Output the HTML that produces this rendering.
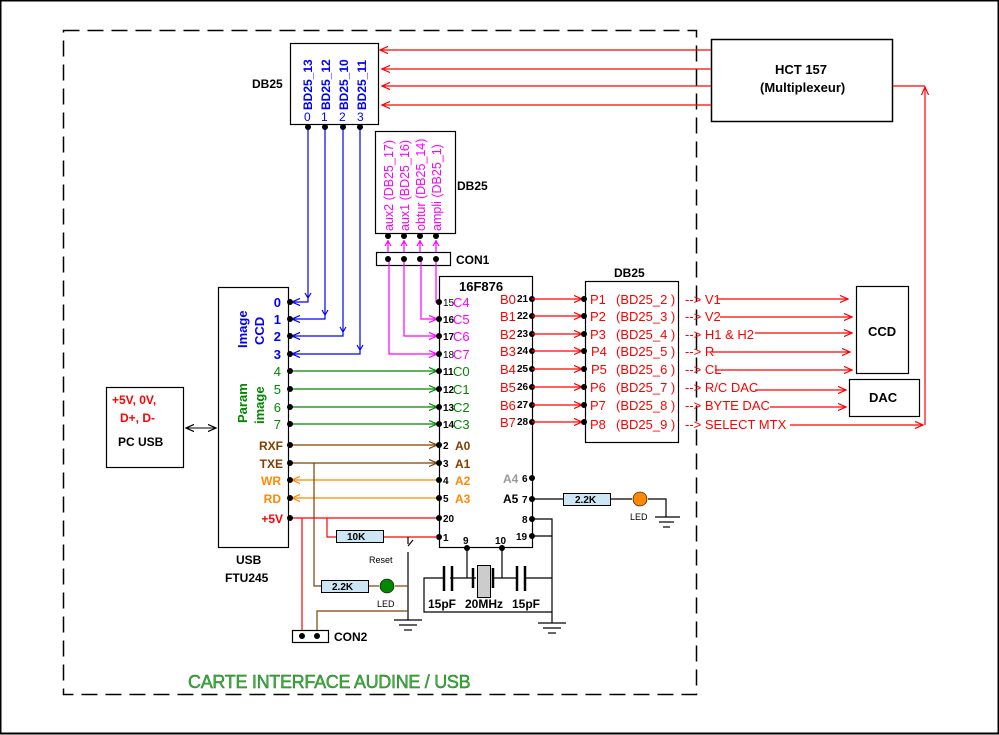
<!DOCTYPE html>
<html><head><meta charset="utf-8"><style>
html,body{margin:0;padding:0;background:#fff}
svg{display:block}
text{font-family:"Liberation Sans",sans-serif}
.b{font-weight:bold}
</style></head><body>
<svg width="999" height="735" viewBox="0 0 999 735" xmlns="http://www.w3.org/2000/svg">
<defs>
<marker id="ar_r" viewBox="0 0 10 10" refX="9" refY="5" markerWidth="9" markerHeight="9" orient="auto" markerUnits="userSpaceOnUse"><path d="M0,1 L9,5 L0,9" fill="none" stroke="#f00" stroke-width="1.3"/></marker>
<marker id="ar_b" viewBox="0 0 10 10" refX="9" refY="5" markerWidth="9" markerHeight="9" orient="auto" markerUnits="userSpaceOnUse"><path d="M0,1 L9,5 L0,9" fill="none" stroke="#00f" stroke-width="1.3"/></marker>
<marker id="ar_m" viewBox="0 0 10 10" refX="9" refY="5" markerWidth="9" markerHeight="9" orient="auto" markerUnits="userSpaceOnUse"><path d="M0,1 L9,5 L0,9" fill="none" stroke="#f0f" stroke-width="1.3"/></marker>
<marker id="ar_g" viewBox="0 0 10 10" refX="9" refY="5" markerWidth="9" markerHeight="9" orient="auto" markerUnits="userSpaceOnUse"><path d="M0,1 L9,5 L0,9" fill="none" stroke="#080" stroke-width="1.3"/></marker>
<marker id="ar_n" viewBox="0 0 10 10" refX="9" refY="5" markerWidth="9" markerHeight="9" orient="auto" markerUnits="userSpaceOnUse"><path d="M0,1 L9,5 L0,9" fill="none" stroke="#804000" stroke-width="1.3"/></marker>
<marker id="ar_o" viewBox="0 0 10 10" refX="9" refY="5" markerWidth="9" markerHeight="9" orient="auto" markerUnits="userSpaceOnUse"><path d="M0,1 L9,5 L0,9" fill="none" stroke="#f80" stroke-width="1.3"/></marker>
<marker id="ar_k" viewBox="0 0 10 10" refX="9" refY="5" markerWidth="9" markerHeight="9" orient="auto-start-reverse" markerUnits="userSpaceOnUse"><path d="M0,1 L9,5 L0,9" fill="none" stroke="#000" stroke-width="1.3"/></marker>
</defs>
<rect x="0.5" y="0.5" width="998" height="733" fill="none" stroke="#000" stroke-width="2"/>
<rect x="63.5" y="30.5" width="633" height="664" fill="none" stroke="#000" stroke-width="1.5" stroke-dasharray="16 8"/>
<text x="188" y="688" font-family="Liberation Serif,serif" font-size="18" fill="#3cb43c" stroke="#1a6a1a" stroke-width="0.4" font-variant="small-caps" letter-spacing="-0.3">CARTE INTERFACE AUDINE / USB</text>

<rect x="711.5" y="39.5" width="181" height="82" fill="#fff" stroke="#000" stroke-width="1.5"/>
<text x="775" y="74" class="b" font-size="13">HCT 157</text>
<text x="760" y="92" class="b" font-size="13">(Multiplexeur)</text>
<g stroke="#f00" stroke-width="1.2" fill="none">
<line x1="711" y1="50" x2="380" y2="50" marker-end="url(#ar_r)"/>
<line x1="711" y1="69" x2="382" y2="69" marker-end="url(#ar_r)"/>
<line x1="711" y1="86" x2="382" y2="86" marker-end="url(#ar_r)"/>
<line x1="711" y1="105" x2="382" y2="105" marker-end="url(#ar_r)"/>
<polyline points="893,86 925,86"/>
<line x1="925" y1="425" x2="925" y2="87" marker-end="url(#ar_r)"/>
</g>

<rect x="290.5" y="43.5" width="88" height="81" fill="#fff" stroke="#000" stroke-width="1.2"/>
<text x="252" y="88" class="b" font-size="12">DB25</text>
<g fill="#00f" font-size="12" class="b">
<text transform="translate(312,110) rotate(-90)">BD25_13</text>
<text transform="translate(330,110) rotate(-90)">BD25_12</text>
<text transform="translate(348,110) rotate(-90)">BD25_10</text>
<text transform="translate(366,110) rotate(-90)">BD25_11</text>
</g>
<g fill="#00f" font-size="12">
<text x="304" y="121">0</text><text x="321" y="121">1</text><text x="339" y="121">2</text><text x="357" y="121">3</text>
</g>
<g stroke="#00f" stroke-width="1.2" fill="none">
<polyline points="308,127 308,302 292,302" marker-end="url(#ar_b)"/>
<polyline points="325,127 325,319 292,319" marker-end="url(#ar_b)"/>
<polyline points="343,127 343,336 292,336" marker-end="url(#ar_b)"/>
<polyline points="360,127 360,354 292,354" marker-end="url(#ar_b)"/>
<path d="M305,293 L308,298 L311,293 M322,310 L325,315 L328,310 M340,327 L343,332 L346,327 M357,345 L360,350 L363,345"/>
</g>
<g fill="#000"><circle cx="308" cy="127" r="3"/><circle cx="325" cy="127" r="3"/><circle cx="343" cy="127" r="3"/><circle cx="360" cy="127" r="3"/></g>

<rect x="375.5" y="131.5" width="80" height="102" fill="#fff" stroke="#000" stroke-width="1.2"/>
<text x="457" y="190" class="b" font-size="12">DB25</text>
<g fill="#f0f" font-size="12.5">
<text transform="translate(393,231) rotate(-90)">aux2 (DB25_17)</text>
<text transform="translate(409,231) rotate(-90)">aux1 (BD25_16)</text>
<text transform="translate(425,231) rotate(-90)">obtur (DB25_14)</text>
<text transform="translate(441,231) rotate(-90)">ampli (DB25_1)</text>
</g>
<rect x="376.5" y="252.5" width="74" height="13" fill="#fff" stroke="#000" stroke-width="1.2"/>
<text x="456" y="264" class="b" font-size="12">CON1</text>
<g stroke="#f0f" stroke-width="1.2" fill="none">
<polyline points="436,259 436,302 439,302"/>
<polyline points="421,259 421,319 437,319" marker-end="url(#ar_m)"/>
<polyline points="404,259 404,336 437,336" marker-end="url(#ar_m)"/>
<polyline points="389,259 389,354 437,354" marker-end="url(#ar_m)"/>
<line x1="388" y1="252" x2="388" y2="240"/><line x1="404" y1="252" x2="404" y2="240"/><line x1="420" y1="252" x2="420" y2="240"/><line x1="436" y1="252" x2="436" y2="240"/>
<path d="M385,246 L388,241 L391,246 M401,246 L404,241 L407,246 M417,246 L420,241 L423,246 M433,246 L436,241 L439,246"/>
</g>
<g fill="#000">
<circle cx="388" cy="236" r="3"/><circle cx="404" cy="236" r="3"/><circle cx="420" cy="236" r="3"/><circle cx="436" cy="236" r="3"/>
<circle cx="388" cy="259" r="3"/><circle cx="404" cy="259" r="3"/><circle cx="420" cy="259" r="3"/><circle cx="436" cy="259" r="3"/>
</g>

<rect x="218.5" y="287.5" width="70" height="260" fill="#fff" stroke="#000" stroke-width="1.2"/>
<text x="236" y="564" class="b" font-size="12">USB</text>
<text x="225" y="582" class="b" font-size="12">FTU245</text>
<g class="b" font-size="13">
<text transform="translate(247,348) rotate(-90)" fill="#00f">Image</text>
<text transform="translate(264,345) rotate(-90)" fill="#00f">CCD</text>
<text transform="translate(247,423) rotate(-90)" fill="#080">Param</text>
<text transform="translate(264,424) rotate(-90)" fill="#080">image</text>
</g>
<g class="b" font-size="13" fill="#00f" text-anchor="end">
<text x="281" y="307">0</text><text x="281" y="324">1</text><text x="281" y="341">2</text><text x="281" y="359">3</text>
</g>
<g font-size="13" fill="#080" text-anchor="end">
<text x="281" y="376">4</text><text x="281" y="394">5</text><text x="281" y="412">6</text><text x="281" y="429">7</text>
</g>
<g class="b" font-size="12" text-anchor="end">
<text x="283" y="450" fill="#804000">RXF</text>
<text x="283" y="468" fill="#804000">TXE</text>
<text x="281" y="485" fill="#f80">WR</text>
<text x="281" y="503" fill="#f80">RD</text>
<text x="283" y="523" fill="#f00">+5V</text>
</g>
<g stroke-width="1.2" fill="none">
<line x1="290" y1="371" x2="437" y2="371" stroke="#080" marker-end="url(#ar_g)"/>
<line x1="290" y1="389" x2="437" y2="389" stroke="#080" marker-end="url(#ar_g)"/>
<line x1="290" y1="407" x2="437" y2="407" stroke="#080" marker-end="url(#ar_g)"/>
<line x1="290" y1="424" x2="437" y2="424" stroke="#080" marker-end="url(#ar_g)"/>
<line x1="290" y1="445" x2="437" y2="445" stroke="#804000" marker-end="url(#ar_n)"/>
<line x1="290" y1="463" x2="437" y2="463" stroke="#804000" marker-end="url(#ar_n)"/>
<line x1="439" y1="480" x2="292" y2="480" stroke="#f80" marker-end="url(#ar_o)"/>
<line x1="439" y1="498" x2="292" y2="498" stroke="#f80" marker-end="url(#ar_o)"/>
<line x1="290" y1="518" x2="439" y2="518" stroke="#f00"/>
</g>
<g fill="#000">
<circle cx="290" cy="302" r="3"/><circle cx="290" cy="319" r="3"/><circle cx="290" cy="336" r="3"/><circle cx="290" cy="354" r="3"/>
<circle cx="290" cy="371" r="3"/><circle cx="290" cy="389" r="3"/><circle cx="290" cy="407" r="3"/><circle cx="290" cy="424" r="3"/>
<circle cx="290" cy="445" r="3"/><circle cx="290" cy="463" r="3"/><circle cx="290" cy="480" r="3"/><circle cx="290" cy="498" r="3"/><circle cx="290" cy="518" r="3"/>
</g>

<rect x="106.5" y="387.5" width="77" height="80" fill="#fff" stroke="#000" stroke-width="1.2"/>
<text x="112" y="404" class="b" font-size="12" fill="#f00">+5V, 0V,</text>
<text x="120" y="422" class="b" font-size="12" fill="#f00">D+, D-</text>
<text x="118" y="446" class="b" font-size="12">PC USB</text>
<line x1="186" y1="428" x2="216" y2="428" stroke="#000" stroke-width="1" marker-start="url(#ar_k)" marker-end="url(#ar_k)"/>

<rect x="439.5" y="276.5" width="93" height="271" fill="#fff" stroke="#000" stroke-width="1.2"/>
<text x="459" y="291" class="b" font-size="13">16F876</text>
<g font-size="10">
<text x="443" y="306">15</text><text x="443" y="323" class="b">16</text><text x="443" y="340" class="b">17</text><text x="443" y="358">18</text>
<text x="443" y="375" class="b">11</text><text x="443" y="393" class="b">12</text><text x="443" y="411" class="b">13</text><text x="443" y="428" class="b">14</text>
<text x="443" y="449" class="b">2</text><text x="443" y="467" class="b">3</text><text x="443" y="484" class="b">4</text><text x="443" y="502" class="b">5</text>
<text x="443" y="522" class="b">20</text><text x="443" y="541" class="b">1</text>
</g>
<g font-size="13" fill="#f0f">
<text x="453" y="307">C4</text><text x="453" y="324">C5</text><text x="453" y="341">C6</text><text x="453" y="359">C7</text>
</g>
<g font-size="13" fill="#080">
<text x="453" y="376">C0</text><text x="453" y="394">C1</text><text x="453" y="412">C2</text><text x="453" y="429">C3</text>
</g>
<g font-size="12" class="b">
<text x="455" y="450" fill="#804000">A0</text><text x="455" y="468" fill="#804000">A1</text>
<text x="455" y="485" fill="#f80">A2</text><text x="455" y="503" fill="#f80">A3</text>
<text x="503" y="483" fill="#999">A4</text><text x="503" y="503" fill="#000">A5</text>
</g>
<g font-size="13" fill="#f00">
<text x="500" y="304">B0</text><text x="500" y="321">B1</text><text x="500" y="339">B2</text><text x="500" y="356">B3</text>
<text x="500" y="374">B4</text><text x="500" y="392">B5</text><text x="500" y="410">B6</text><text x="500" y="427">B7</text>
</g>
<g font-size="10" class="b">
<text x="517" y="302">21</text><text x="517" y="319">22</text><text x="517" y="337">23</text><text x="517" y="354">24</text>
<text x="517" y="372">25</text><text x="517" y="390">26</text><text x="517" y="408">27</text><text x="517" y="425">28</text>
<text x="522" y="482">6</text><text x="522" y="503">7</text><text x="522" y="523">8</text><text x="516" y="540">19</text>
<text x="463" y="544">9</text><text x="495" y="544">10</text>
</g>
<g fill="#000">
<circle cx="439" cy="302" r="3"/><circle cx="439" cy="319" r="3"/><circle cx="439" cy="336" r="3"/><circle cx="439" cy="354" r="3"/>
<circle cx="439" cy="371" r="3"/><circle cx="439" cy="389" r="3"/><circle cx="439" cy="407" r="3"/><circle cx="439" cy="424" r="3"/>
<circle cx="439" cy="445" r="3"/><circle cx="439" cy="463" r="3"/><circle cx="439" cy="480" r="3"/><circle cx="439" cy="498" r="3"/>
<circle cx="439" cy="518" r="3"/><circle cx="439" cy="537" r="3"/>
<circle cx="532" cy="299" r="3"/><circle cx="532" cy="316" r="3"/><circle cx="532" cy="334" r="3"/><circle cx="532" cy="351" r="3"/>
<circle cx="532" cy="369" r="3"/><circle cx="532" cy="387" r="3"/><circle cx="532" cy="405" r="3"/><circle cx="532" cy="422" r="3"/>
<circle cx="532" cy="478" r="3"/><circle cx="532" cy="499" r="3"/><circle cx="532" cy="519" r="3"/><circle cx="532" cy="536" r="3"/>
<circle cx="467" cy="548" r="3"/><circle cx="502" cy="548" r="3"/>
</g>

<rect x="585.5" y="281.5" width="93" height="161" fill="#fff" stroke="#000" stroke-width="1.2"/>
<text x="614" y="277" class="b" font-size="12">DB25</text>
<g stroke="#f00" stroke-width="1.2" fill="none">
<line x1="532" y1="299" x2="582" y2="299" marker-end="url(#ar_r)"/>
<line x1="532" y1="316" x2="582" y2="316" marker-end="url(#ar_r)"/>
<line x1="532" y1="334" x2="582" y2="334" marker-end="url(#ar_r)"/>
<line x1="532" y1="351" x2="582" y2="351" marker-end="url(#ar_r)"/>
<line x1="532" y1="369" x2="582" y2="369" marker-end="url(#ar_r)"/>
<line x1="532" y1="387" x2="582" y2="387" marker-end="url(#ar_r)"/>
<line x1="532" y1="405" x2="582" y2="405" marker-end="url(#ar_r)"/>
<line x1="532" y1="422" x2="582" y2="422" marker-end="url(#ar_r)"/>
<line x1="717" y1="299" x2="848" y2="299" marker-end="url(#ar_r)"/>
<line x1="720" y1="317" x2="852" y2="317" marker-end="url(#ar_r)"/>
<line x1="755" y1="333" x2="852" y2="333" marker-end="url(#ar_r)"/>
<line x1="712" y1="352" x2="850" y2="352" marker-end="url(#ar_r)"/>
<line x1="715" y1="370" x2="852" y2="370" marker-end="url(#ar_r)"/>
<line x1="755" y1="390" x2="846" y2="390" marker-end="url(#ar_r)"/>
<line x1="770" y1="407" x2="846" y2="407" marker-end="url(#ar_r)"/>
<line x1="790" y1="425" x2="923" y2="425" marker-end="url(#ar_r)"/>
</g>
<g fill="#000">
<circle cx="584" cy="299" r="3"/><circle cx="584" cy="316" r="3"/><circle cx="584" cy="334" r="3"/><circle cx="584" cy="351" r="3"/>
<circle cx="584" cy="369" r="3"/><circle cx="584" cy="387" r="3"/><circle cx="584" cy="405" r="3"/><circle cx="584" cy="422" r="3"/>
</g>
<g font-size="13" fill="#f00">
<text x="590" y="304">P1</text><text x="616" y="304">(BD25_2 )</text><text x="685" y="304">--&gt; V1</text>
<text x="590" y="321">P2</text><text x="616" y="321">(BD25_3 )</text><text x="685" y="321">--&gt; V2</text>
<text x="590" y="339">P3</text><text x="616" y="339">(BD25_4 )</text><text x="685" y="339">--&gt; H1 &amp; H2</text>
<text x="591" y="356">P4</text><text x="616" y="356">(BD25_5 )</text><text x="685" y="356">--&gt; R</text>
<text x="591" y="374">P5</text><text x="616" y="374">(BD25_6 )</text><text x="685" y="374">--&gt; CL</text>
<text x="590" y="392">P6</text><text x="616" y="392">(BD25_7 )</text><text x="685" y="392">--&gt; R/C DAC</text>
<text x="590" y="410">P7</text><text x="616" y="410">(BD25_8 )</text><text x="685" y="410">--&gt; BYTE DAC</text>
<text x="590" y="429">P8</text><text x="616" y="429">(BD25_9 )</text><text x="685" y="429">--&gt; SELECT MTX</text>
</g>
<rect x="856.5" y="286.5" width="52" height="87" fill="#fff" stroke="#000" stroke-width="1.2"/>
<text x="868" y="336" class="b" font-size="13">CCD</text>
<rect x="849.5" y="379.5" width="70" height="37" fill="#fff" stroke="#000" stroke-width="1.2"/>
<text x="869" y="402" class="b" font-size="13">DAC</text>

<g stroke="#000" stroke-width="1.2" fill="none">
<line x1="532" y1="499" x2="563" y2="499"/><line x1="610" y1="499" x2="632" y2="499"/>
<polyline points="648,499 666,499 666,517"/>
<line x1="655" y1="517" x2="680" y2="517"/><line x1="659" y1="522" x2="674" y2="522"/><line x1="663" y1="527" x2="670" y2="527"/>
<polyline points="532,519 552,519 552,623"/><line x1="532" y1="536" x2="552" y2="536"/>
<line x1="538" y1="623" x2="566" y2="623"/><line x1="543" y1="628" x2="561" y2="628"/><line x1="548" y1="633" x2="556" y2="633"/>
<line x1="467" y1="548" x2="467" y2="578"/><line x1="502" y1="548" x2="502" y2="578"/>
<polyline points="444,578 424,578 424,612 552,612"/>
<line x1="450" y1="578" x2="476" y2="578"/><line x1="492" y1="578" x2="518" y2="578"/><line x1="524" y1="578" x2="552" y2="578"/>
</g>
<rect x="563.5" y="493.5" width="47" height="12" fill="#cde6f5" stroke="#000" stroke-width="1"/>
<text x="575" y="503" font-size="10" class="b">2.2K</text>
<circle cx="640" cy="499" r="7" fill="#f80" stroke="#000" stroke-width="0.6"/>
<text x="630" y="520" font-size="9">LED</text>
<g stroke="#000" stroke-width="2.5"><line x1="444" y1="566" x2="444" y2="591"/><line x1="452" y1="566" x2="452" y2="591"/>
<line x1="517" y1="566" x2="517" y2="591"/><line x1="525" y1="566" x2="525" y2="591"/>
<line x1="473" y1="568" x2="473" y2="588"/><line x1="493" y1="568" x2="493" y2="588"/></g>
<rect x="477.5" y="565.5" width="13" height="32" fill="#ccc" stroke="#000" stroke-width="1"/>
<g class="b" font-size="12"><text x="428" y="608">15pF</text><text x="465" y="608">20MHz</text><text x="512" y="608">15pF</text></g>

<g stroke="#f00" stroke-width="1.2" fill="none">
<line x1="302" y1="518" x2="302" y2="636"/>
<polyline points="327,518 327,537 336,537"/><line x1="383" y1="537" x2="437" y2="537"/>
</g>
<rect x="336.5" y="530.5" width="47" height="12" fill="#cde6f5" stroke="#000" stroke-width="1"/>
<text x="347" y="540" font-size="10" class="b">10K</text>
<g stroke="#000" stroke-width="1.2" fill="none">
<line x1="408" y1="537" x2="408" y2="544"/><line x1="408" y1="546" x2="413" y2="540"/>
<line x1="408" y1="552" x2="408" y2="620"/>
<line x1="394" y1="620" x2="422" y2="620"/><line x1="399" y1="625" x2="417" y2="625"/><line x1="404" y1="630" x2="412" y2="630"/>
</g>
<text x="369" y="563" font-size="9">Reset</text>
<g stroke="#804000" stroke-width="1.2" fill="none">
<polyline points="314,463 314,586 321,586"/>
<line x1="369" y1="586" x2="379" y2="586"/><line x1="395" y1="586" x2="408" y2="586"/>
<polyline points="317,636 317,611 408,611"/>
</g>
<rect x="321.5" y="580.5" width="47" height="12" fill="#cde6f5" stroke="#000" stroke-width="1"/>
<text x="332" y="590" font-size="10" class="b">2.2K</text>
<circle cx="387" cy="586" r="7" fill="#080" stroke="#000" stroke-width="0.6"/>
<text x="377" y="607" font-size="9">LED</text>
<rect x="292.5" y="630.5" width="36" height="12" fill="#fff" stroke="#000" stroke-width="1.2"/>
<circle cx="302" cy="636" r="3"/><circle cx="317" cy="636" r="3"/>
<text x="334" y="641" class="b" font-size="12">CON2</text>
</svg>
</body></html>
